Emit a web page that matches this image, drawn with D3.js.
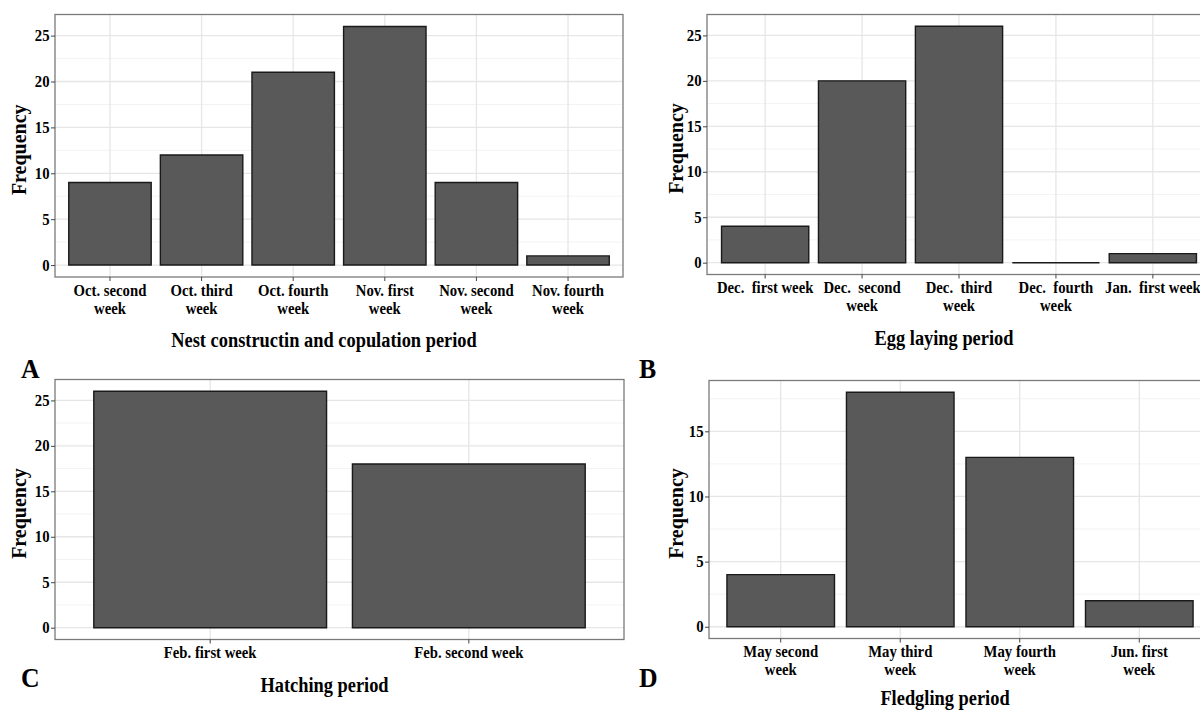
<!DOCTYPE html>
<html>
<head>
<meta charset="utf-8">
<script src="https://cdn.jsdelivr.net/npm/d3@7"></script>
<style>
  body { margin: 0; background: #fff; }
  svg { display: block; background: #fff; }
  text { white-space: pre; }
</style>
</head>
<body>
<svg id="svg" width="1200" height="711"></svg>
<script>
// Dados (categorias com quebra de linha "\n")
const nestCats = ["Oct. second\nweek", "Oct. third\nweek", "Oct. fourth\nweek", "Nov. first\nweek", "Nov. second\nweek", "Nov. fourth\nweek"];
const nestValues = [9, 12, 21, 26, 9, 1];

const eggCats = ["Dec.  first week", "Dec.  second\nweek", "Dec.  third\nweek", "Dec.  fourth\nweek", "Jan.  first week"];
const eggValues = [4, 20, 26, 0, 1];

const hatchCats = ["Feb. first week", "Feb. second week"];
const hatchValues = [26, 18];

const fledgeCats = ["May second\nweek", "May third\nweek", "May fourth\nweek", "Jun. first\nweek"];
const fledgeValues = [4, 18, 13, 2];

const freqTicks = [0, 5, 10, 15, 20, 25];
const fledgeTicks = [0, 5, 10, 15];

const svg = d3.select("#svg");
const serif = "'Liberation Serif', 'Times New Roman', serif";
const squeeze = 0.92; // a figura original está levemente comprimida na horizontal

const panels = [
  { letter: "A", cats: nestCats, values: nestValues, ticks: freqTicks,
    title: "Nest constructin and copulation period",
    box: { x0: 55, x1: 623, y0: 14.5, y1: 277 }, letterPos: [21, 378], yTitleX: 19, titleDy: 33 },
  { letter: "B", cats: eggCats, values: eggValues, ticks: freqTicks,
    title: "Egg laying period",
    box: { x0: 707, x1: 1211, y0: 14.5, y1: 274.5 }, letterPos: [639, 378], yTitleX: 676, titleDy: 33 },
  { letter: "C", cats: hatchCats, values: hatchValues, ticks: freqTicks,
    title: "Hatching period",
    box: { x0: 55, x1: 624, y0: 379.5, y1: 639.5 }, letterPos: [21, 687], yTitleX: 19, titleDy: 33 },
  { letter: "D", cats: fledgeCats, values: fledgeValues, ticks: fledgeTicks,
    title: "Fledgling period",
    box: { x0: 709, x1: 1211, y0: 380.5, y1: 638.5 }, letterPos: [639, 687], yTitleX: 676, titleDy: 29 }
];

panels.forEach(drawPanel);

function drawPanel(p) {
  const g = svg.append("g");
  const b = p.box;

  // escalas no estilo ggplot (barras 0.9, expansão 0.6 nas pontas, 5% no eixo y)
  const x = d3.scaleBand()
    .domain(p.cats)
    .range([b.x0, b.x1])
    .paddingInner(0.1)
    .paddingOuter(0.15);
  const ymax = d3.max(p.values);
  const y = d3.scaleLinear()
    .domain([-0.05 * ymax, 1.05 * ymax])
    .range([b.y1, b.y0]);

  // grade menor
  const minor = p.ticks.map(t => t + 2.5).filter(t => t < y.domain()[1]);
  g.selectAll("line.minor")
    .data(minor)
    .enter()
    .append("line")
    .attr("x1", b.x0).attr("x2", b.x1)
    .attr("y1", d => y(d)).attr("y2", d => y(d))
    .attr("stroke", "#f0f0f0")
    .attr("stroke-width", 0.8);

  // grade maior
  g.selectAll("line.major")
    .data(p.ticks)
    .enter()
    .append("line")
    .attr("x1", b.x0).attr("x2", b.x1)
    .attr("y1", d => y(d)).attr("y2", d => y(d))
    .attr("stroke", "#e6e6e6")
    .attr("stroke-width", 1.3);

  g.selectAll("line.vgrid")
    .data(p.cats)
    .enter()
    .append("line")
    .attr("x1", d => x(d) + x.bandwidth() / 2)
    .attr("x2", d => x(d) + x.bandwidth() / 2)
    .attr("y1", b.y0).attr("y2", b.y1)
    .attr("stroke", "#e6e6e6")
    .attr("stroke-width", 1.3);

  // barras (path para que a barra de valor 0 ainda mostre o contorno)
  g.selectAll("path.bar")
    .data(p.cats.map((c, i) => ({ cat: c, value: p.values[i] })))
    .enter()
    .append("path")
    .attr("class", "bar")
    .attr("d", d => {
      const x0 = x(d.cat), w = x.bandwidth();
      const top = y(d.value), base = y(0);
      return `M${x0},${base}V${top}H${x0 + w}V${base}Z`;
    })
    .attr("fill", "#595959")
    .attr("stroke", "#1a1a1a")
    .attr("stroke-width", 1.4);

  // borda do painel
  g.append("rect")
    .attr("x", b.x0).attr("y", b.y0)
    .attr("width", b.x1 - b.x0).attr("height", b.y1 - b.y0)
    .attr("fill", "none")
    .attr("stroke", "#7a7a7a")
    .attr("stroke-width", 1.3);

  // eixo y
  const yAxis = g.append("g")
    .attr("transform", `translate(${b.x0},0)`)
    .call(d3.axisLeft(y).tickValues(p.ticks).tickSize(4).tickPadding(2));
  yAxis.attr("font-family", serif).attr("font-size", 16).attr("font-weight", "bold");
  yAxis.select(".domain").remove();
  yAxis.selectAll("line").attr("stroke", "#444");
  yAxis.selectAll("text")
    .attr("fill", "#000")
    .attr("transform", `scale(${squeeze},1)`);

  // eixo x
  const xAxis = g.append("g")
    .attr("transform", `translate(0,${b.y1})`)
    .call(d3.axisBottom(x).tickSize(4).tickPadding(2));
  xAxis.attr("font-family", serif).attr("font-size", 16).attr("font-weight", "bold");
  xAxis.select(".domain").remove();
  xAxis.selectAll("line").attr("stroke", "#444");
  xAxis.selectAll("text")
    .attr("fill", "#000")
    .attr("y", 0)
    .attr("dy", null)
    .attr("transform", `scale(${squeeze},1)`)
    .text(null)
    .selectAll("tspan")
    .data(d => d.split("\n"))
    .join("tspan")
    .attr("x", 0)
    .attr("y", (d, i) => 19 + i * 18)
    .text(d => d);

  const nLines = d3.max(p.cats, c => c.split("\n").length);

  // título do eixo x
  const tx = (b.x0 + b.x1) / 2 - 15;
  const ty = b.y1 + 19 + (nLines - 1) * 18 + p.titleDy;
  g.append("text")
    .attr("transform", `translate(${tx},${ty}) scale(${squeeze},1)`)
    .attr("text-anchor", "middle")
    .attr("font-family", serif)
    .attr("font-weight", "bold")
    .attr("font-size", 20)
    .text(p.title);

  // título do eixo y
  g.append("text")
    .attr("transform", `translate(${p.yTitleX},${(b.y0 + b.y1) / 2 + 4}) rotate(-90)`)
    .attr("text-anchor", "middle")
    .attr("dy", "0.35em")
    .attr("font-family", serif)
    .attr("font-weight", "bold")
    .attr("font-size", 20)
    .text("Frequency");

  // letra do painel
  svg.append("text")
    .attr("transform", `translate(${p.letterPos[0]},${p.letterPos[1]}) scale(${squeeze},1)`)
    .attr("font-family", serif)
    .attr("font-weight", "bold")
    .attr("font-size", 28)
    .text(p.letter);
}
</script>
</body>
</html>
